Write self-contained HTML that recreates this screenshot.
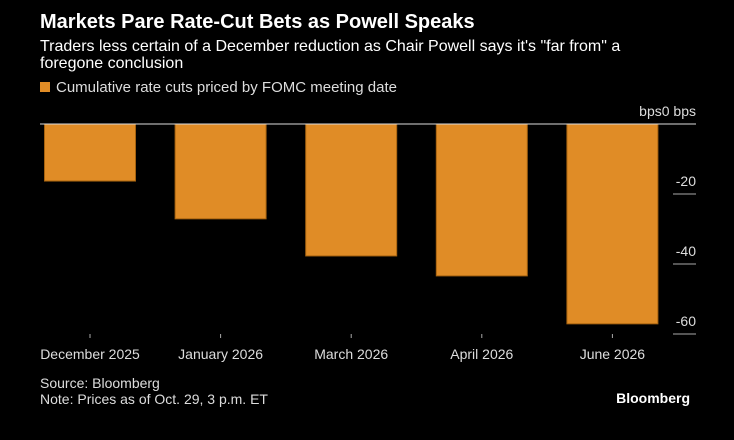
<!DOCTYPE html>
<html><head><meta charset="utf-8"><style>
body{margin:0;background:#000;width:734px;height:440px;overflow:hidden;font-family:"Liberation Sans",Arial,sans-serif;color:#fff}
</style></head><body>
<svg width="734" height="440" style="position:absolute;left:0;top:0">
<text x="40" y="28" font-size="20" font-weight="bold" fill="#fff">Markets Pare Rate-Cut Bets as Powell Speaks</text>
<text x="40" y="51" font-size="16" fill="#fff">Traders less certain of a December reduction as Chair Powell says it's "far from" a</text>
<text x="40" y="68" font-size="16" fill="#fff">foregone conclusion</text>
<rect x="40" y="82" width="10" height="10" fill="#e08c26"/>
<text x="56" y="92" font-size="15" fill="#ddd">Cumulative rate cuts priced by FOMC meeting date</text>
<g id="bars"></g>
<g id="axis"></g>
<text x="40" y="388" font-size="14" fill="#ddd">Source: Bloomberg</text>
<text x="40" y="404" font-size="14" fill="#ddd">Note: Prices as of Oct. 29, 3 p.m. ET</text>
<text x="690" y="403" font-size="14" font-weight="bold" fill="#fff" text-anchor="end">Bloomberg</text>
</svg>
<script>
const categories=["December 2025","January 2026","March 2026","April 2026","June 2026"];
const values=[-16.3,-27.1,-37.7,-43.4,-57.1];
const ticks=[-20,-40,-60];
const NS="http://www.w3.org/2000/svg";
const y0=124,pxPer=3.5;
function yScale(v){return y0-v*pxPer;}
function xCenter(i){return 90+i*130.6;}
function mk(t,a,p){const e=document.createElementNS(NS,t);for(const k in a)e.setAttribute(k,a[k]);p.appendChild(e);return e;}
const bars=document.getElementById('bars'),axis=document.getElementById('axis');
values.forEach((v,i)=>{
  const r=mk('rect',{x:xCenter(i)-45.5,y:yScale(0),width:91,height:yScale(v)-yScale(0),fill:'#e08c26',stroke:'#a5620f','stroke-width':1},bars);
  
  
  const tk=mk('line',{x1:xCenter(i),x2:xCenter(i),y1:334,y2:338,stroke:'#aaa'},axis);
  
  
  const t=mk('text',{x:xCenter(i),y:359,'font-size':14,fill:'#ddd','text-anchor':'middle'},axis);
  t.textContent=categories[i];
  
  
});
const zl=mk('line',{x1:40,x2:696,y1:y0,y2:y0,stroke:'#ddd','stroke-width':1},axis);


const zt=mk('text',{x:696,y:116,'font-size':14,fill:'#ddd','text-anchor':'end'},axis);
zt.textContent='bps0 bps';


ticks.forEach(v=>{
  const l=mk('line',{x1:673,x2:696,y1:yScale(v),y2:yScale(v),stroke:'#aaa'},axis);
  
  
  const t=mk('text',{x:696,y:yScale(v)-8,'font-size':14,fill:'#ddd','text-anchor':'end'},axis);
  t.textContent=v;
  
  
});
</script>
</body></html>
